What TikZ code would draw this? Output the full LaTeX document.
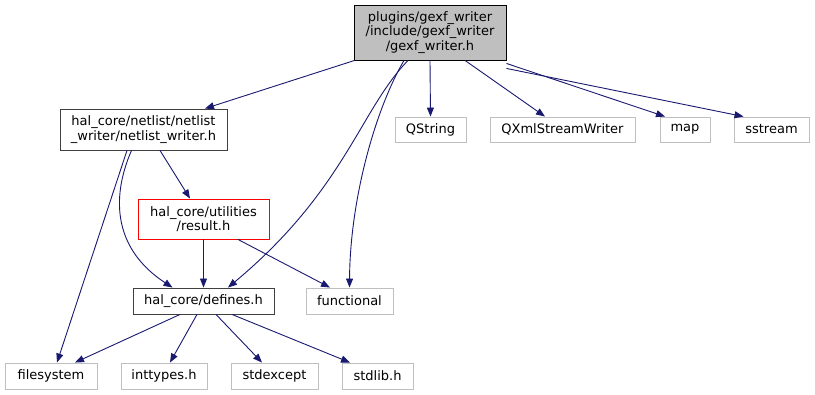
\documentclass[tikz,border=0pt]{standalone}
\usepackage{fontspec}
\setmainfont{DejaVu Sans}
\usetikzlibrary{arrows.meta}
\definecolor{edgeblue}{HTML}{191970}
\definecolor{lgray}{HTML}{BFBFBF}
\begin{document}
\begin{tikzpicture}[x=1pt,y=-1pt,
  every node/.style={font=\fontsize{13}{14.5}\selectfont, inner sep=0pt, align=center},
  box/.style={draw, rectangle, line width=0.9pt},
  mainbox/.style={box, draw=black, fill=lgray},
  userbox/.style={box, draw=black!75},
  redbox/.style={box, draw=red},
  sysbox/.style={box, draw=lgray},
  dep/.style={draw=edgeblue, line width=0.9pt, -{Triangle[length=9pt,width=7pt]}, edgeblue}]
\useasboundingbox (0,0) rectangle (815,395);
\node[mainbox, minimum width=152pt, minimum height=55pt] (gexf) at (430,32.5) {plugins/gexf\_writer\\/include/gexf\_writer\\/gexf\_writer.h};
\node[userbox, minimum width=167pt, minimum height=41pt] (netlist) at (143.5,129.5) {hal\_core/netlist/netlist\\\_writer/netlist\_writer.h};
\node[redbox, minimum width=131pt, minimum height=40pt] (result) at (203.5,219) {hal\_core/utilities\\/result.h};
\node[userbox, minimum width=141pt, minimum height=26pt] (defines) at (203.5,301) {hal\_core/defines.h};
\node[sysbox, minimum width=87pt, minimum height=26pt] (functional) at (349.5,301) {functional};
\node[sysbox, minimum width=92pt, minimum height=26pt] (filesystem) at (51,376) {filesystem};
\node[sysbox, minimum width=86pt, minimum height=26pt] (inttypes) at (164,376) {inttypes.h};
\node[sysbox, minimum width=87pt, minimum height=26pt] (stdexcept) at (274.5,376) {stdexcept};
\node[sysbox, minimum width=71pt, minimum height=26pt] (stdlib) at (377.5,376) {stdlib.h};
\node[sysbox, minimum width=71pt, minimum height=25pt] (qstring) at (430.5,129.5) {QString};
\node[sysbox, minimum width=145pt, minimum height=25pt] (qxml) at (562.5,129.5) {QXmlStreamWriter};
\node[sysbox, minimum width=50pt, minimum height=25pt] (map) at (685,129.5) {map};
\node[sysbox, minimum width=75pt, minimum height=25pt] (sstream) at (771.5,129.5) {sstream};

\draw[dep] ([xshift=1pt]gexf.south west) -- ([xshift=61.5pt]netlist.north);
\draw[dep] (gexf.south) -- (qstring.north);
\draw[dep] ([xshift=35pt]gexf.south) -- ([xshift=-17.5pt]qxml.north);
\draw[dep] ([yshift=-3pt]gexf.south east) -- ([xshift=-20pt]map.north);
\draw[dep] ([yshift=-8pt]gexf.south east) -- ([xshift=-28pt]sstream.north);
\draw[dep] ([xshift=-22pt]gexf.south) .. controls (360,110) and (345,190) .. ([xshift=24.5pt]defines.north);
\draw[dep] ([xshift=-26pt]gexf.south) .. controls (375,110) and (350,200) .. (functional.north);
\draw[dep] ([xshift=16.5pt]netlist.south) -- ([xshift=-13.5pt]result.north);
\draw[dep] ([xshift=-16.5pt]netlist.south) -- ([xshift=6pt]filesystem.north);
\draw[dep] ([xshift=-12pt]netlist.south) .. controls (110,200) and (115,250) .. ([xshift=-31pt]defines.north);
\draw[dep] (result.south) -- (defines.north);
\draw[dep] ([xshift=34.5pt]result.south) -- ([xshift=-19.5pt]functional.north);
\draw[dep] ([xshift=-23.5pt]defines.south) -- ([xshift=24pt]filesystem.north);
\draw[dep] ([xshift=-6.5pt]defines.south) -- ([xshift=6pt]inttypes.north);
\draw[dep] ([xshift=12.5pt]defines.south) -- ([xshift=-12.5pt]stdexcept.north);
\draw[dep] ([xshift=28.5pt]defines.south) -- ([xshift=-27.5pt]stdlib.north);
\end{tikzpicture}
\end{document}
